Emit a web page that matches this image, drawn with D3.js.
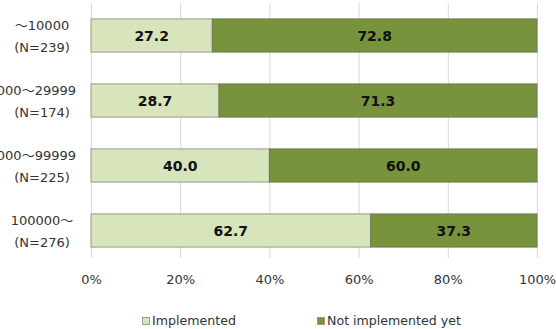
<!DOCTYPE html>
<html><head><meta charset="utf-8">
<script src="https://cdn.jsdelivr.net/npm/d3@7"></script>
<style>body{margin:0;background:#fff}svg{display:block}</style>
</head><body>
<script>
const categories = ["～10000", "10000～29999", "30000～99999", "100000～"];
const counts = ["(N=239)", "(N=174)", "(N=225)", "(N=276)"];
const implemented = [27.2, 28.7, 40.0, 62.7];
const notImplemented = [72.8, 71.3, 60.0, 37.3];
const tickValues = [0, 20, 40, 60, 80, 100];
const seriesNames = ["Implemented", "Not implemented yet"];
const colors = ["#d8e4bc", "#77933c"];

const W = 556, H = 329;
const font = "'DejaVu Sans', 'Noto Sans CJK JP', Verdana, sans-serif";
const svg = d3.select("body").append("svg").attr("width", W).attr("height", H);

const x = d3.scaleLinear().domain([0, 100]).range([91, 537]);
const y = d3.scaleBand().domain(categories).range([3, 263]).paddingInner(0.49).paddingOuter(0.245);

// gridlines
svg.append("g").selectAll("line").data(tickValues).join("line")
  .attr("x1", d => x(d) + 0.5).attr("x2", d => x(d) + 0.5)
  .attr("y1", 3).attr("y2", 258)
  .attr("stroke", "#d9d9d9").attr("stroke-width", 1);

const rows = categories.map((c, i) => ({c, a: implemented[i], b: notImplemented[i]}));

const g = svg.append("g");
rows.forEach(r => {
  const y0 = y(r.c), h = y.bandwidth();
  g.append("rect").attr("x", x(0)).attr("y", y0).attr("width", x(r.a) - x(0)).attr("height", h)
    .attr("fill", colors[0]).attr("stroke", "#9a9a8a").attr("stroke-width", 1);
  g.append("rect").attr("x", x(r.a)).attr("y", y0).attr("width", x(r.a + r.b) - x(r.a)).attr("height", h)
    .attr("fill", colors[1]).attr("stroke", "#6f7a5a").attr("stroke-width", 1);
  g.append("text").attr("x", (x(0) + x(r.a)) / 2).attr("y", y0 + h / 2).attr("dy", "0.36em")
    .attr("text-anchor", "middle").attr("font-family", font).attr("font-weight", "bold")
    .attr("font-size", 14).attr("fill", "#111").text(r.a.toFixed(1));
  g.append("text").attr("x", (x(r.a) + x(100)) / 2).attr("y", y0 + h / 2).attr("dy", "0.36em")
    .attr("text-anchor", "middle").attr("font-family", font).attr("font-weight", "bold")
    .attr("font-size", 14).attr("fill", "#111").text(r.b.toFixed(1));
});

// category labels (centered; long ones pushed left so their right edge stays near the plot)
categories.forEach((c, i) => {
  const cy = y(c) + y.bandwidth() / 2;
  const t1 = svg.append("text").attr("y", cy - 6).attr("text-anchor", "middle")
    .attr("font-family", font).attr("font-size", 13).attr("fill", "#333").text(c);
  const w1 = t1.node().getComputedTextLength();
  t1.attr("x", Math.min(42, 76 - w1 / 2));
  svg.append("text").attr("x", 42).attr("y", cy + 16.5).attr("text-anchor", "middle")
    .attr("font-family", font).attr("font-size", 13).attr("fill", "#333").text(counts[i]);
});

// x axis
const xAxis = d3.axisBottom(x).tickValues(tickValues).tickFormat(d => d + "%").tickSize(0);
const ax = svg.append("g").attr("transform", "translate(0,272)").call(xAxis);
ax.select(".domain").remove();
ax.selectAll("text").attr("font-family", font).attr("font-size", 13).attr("fill", "#333");

// legend
const legendItems = [{x: 142, name: seriesNames[0], color: colors[0]}, {x: 317, name: seriesNames[1], color: colors[1]}];
legendItems.forEach(l => {
  svg.append("rect").attr("x", l.x + 0.5).attr("y", 317.5).attr("width", 7).attr("height", 7)
    .attr("fill", l.color).attr("stroke", "#8a8a7a").attr("stroke-width", 0.8);
  svg.append("text").attr("x", l.x + 10).attr("y", 325).attr("font-family", font)
    .attr("font-size", 12.6).attr("fill", "#333").text(l.name);
});
</script>
</body></html>
